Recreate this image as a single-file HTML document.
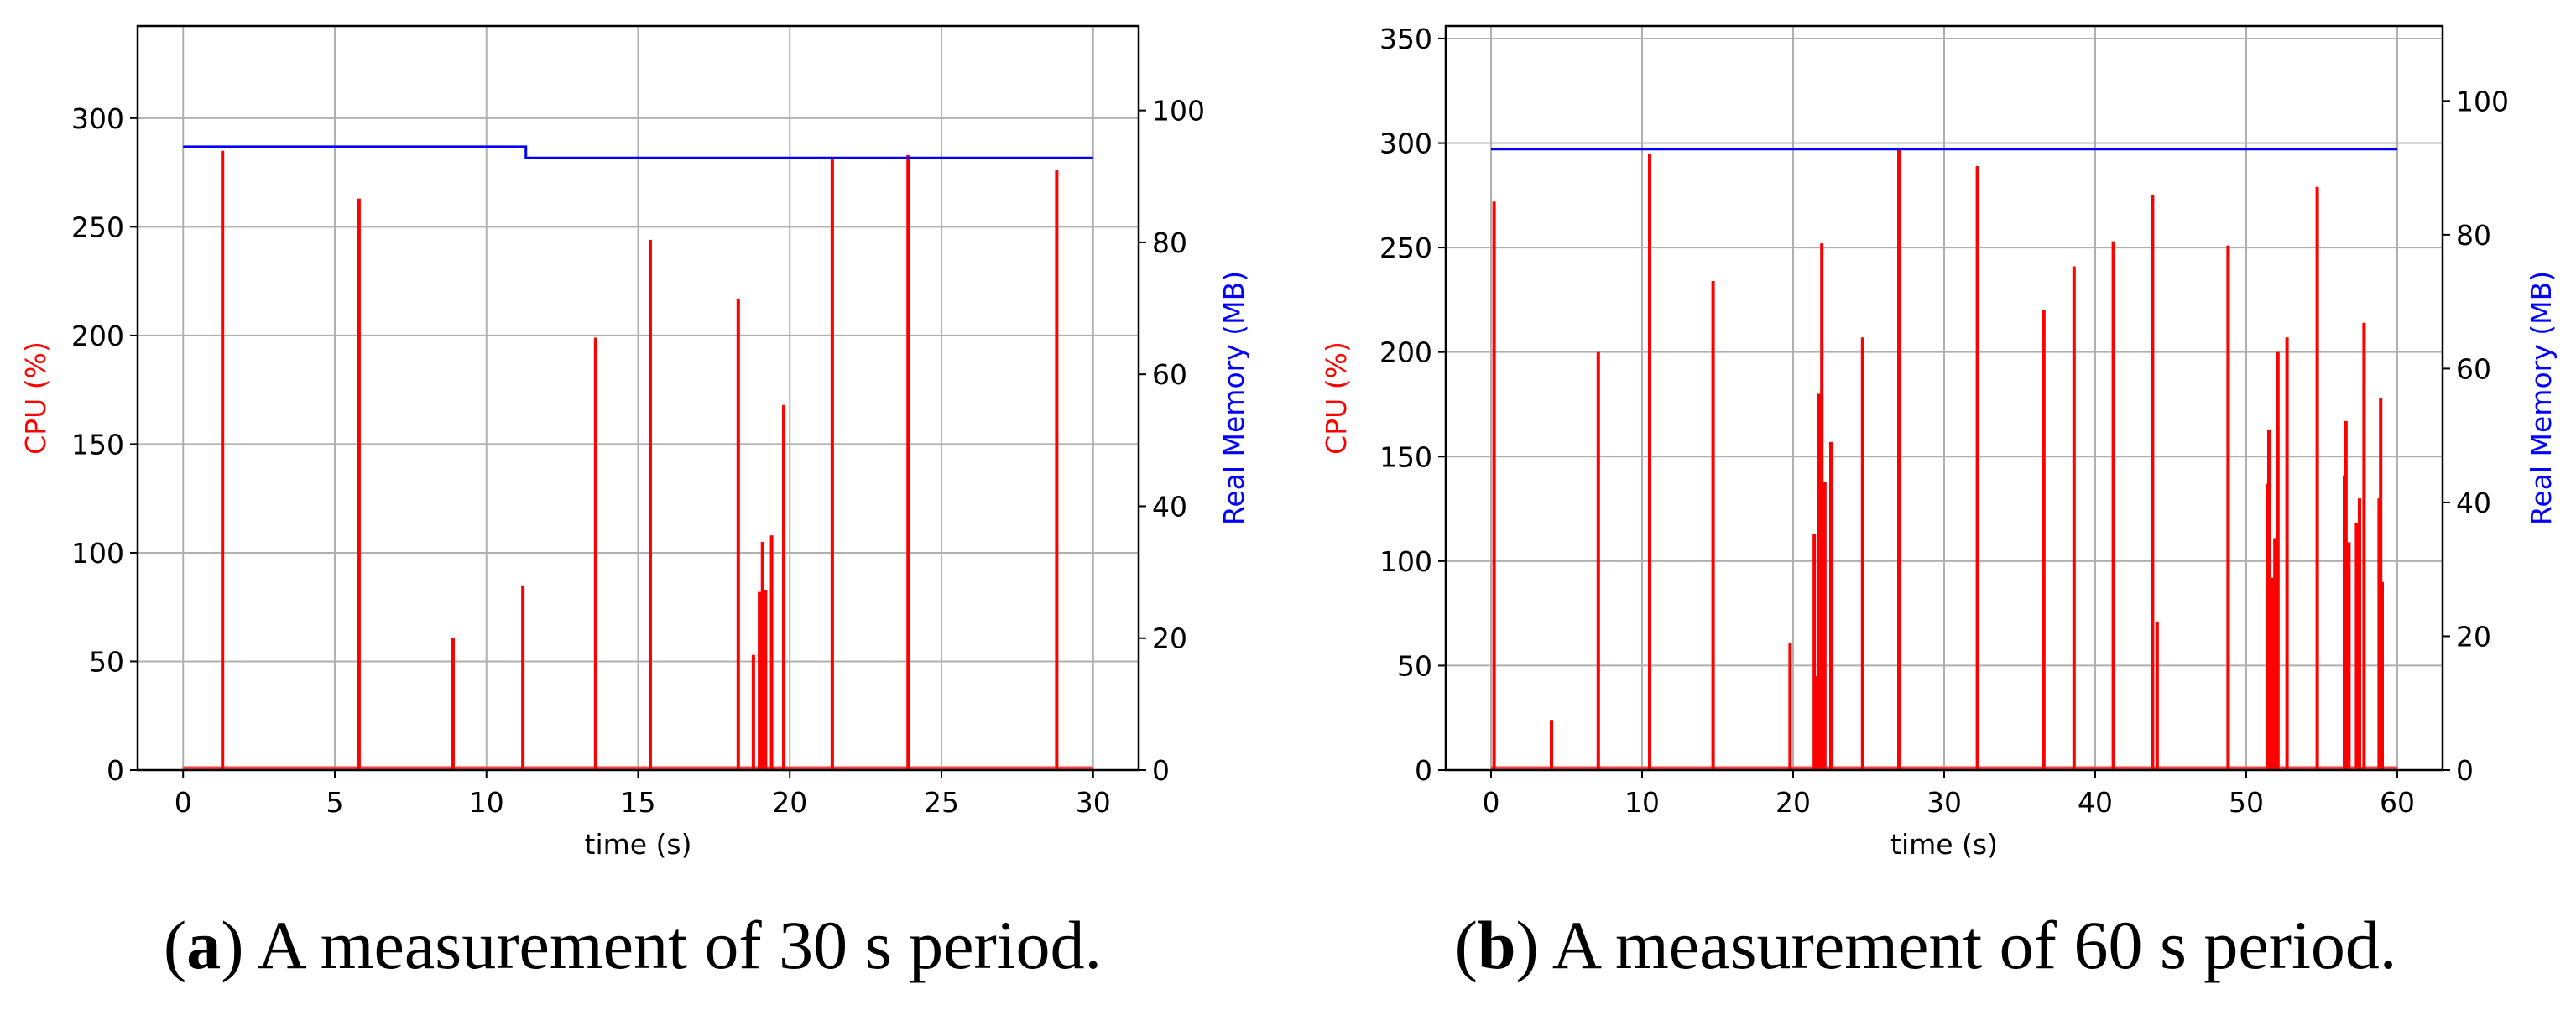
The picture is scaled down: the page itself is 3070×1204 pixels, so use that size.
<!DOCTYPE html>
<html><head><meta charset="utf-8"><style>
html,body{margin:0;padding:0;background:#fff;}
svg{display:block;}
text{font-family:"DejaVu Sans","Liberation Sans",sans-serif;}
.cap{font-family:"Liberation Serif",serif;}
</style></head><body>
<svg id="fig" width="3070" height="1204" viewBox="0 0 3070 1204" xmlns="http://www.w3.org/2000/svg">
<text class="cap" x="754" y="1154" font-size="82" text-anchor="middle">(<tspan font-weight="bold">a</tspan>) A measurement of 30 s period.</text>
<text class="cap" x="2295" y="1154" font-size="82" text-anchor="middle">(<tspan font-weight="bold">b</tspan>) A measurement of 60 s period.</text>
</svg>
<script>
// Panel A data
const aTimes = [1.3, 5.8, 8.9, 11.2, 13.6, 15.4, 18.3, 18.8, 19.0, 19.1, 19.2, 19.4, 19.8, 21.4, 23.9, 28.8];
const aCpu   = [285, 263, 61, 85, 199, 244, 217, 53, 82, 105, 83, 108, 168, 281, 283, 276];
const aMemT  = [0, 11.3, 11.3, 30];
const aMemV  = [94.5, 94.5, 92.8, 92.8];
const aXTicks = [0, 5, 10, 15, 20, 25, 30];
const aYTicks = [0, 50, 100, 150, 200, 250, 300];
const aY2Ticks = [0, 20, 40, 60, 80, 100];
// Panel B data
const bTimes = [0.2, 4.0, 7.1, 10.5, 14.7, 19.8, 21.4, 21.6, 21.7, 21.9, 22.1, 22.5, 24.6, 27.0, 32.2, 36.6, 38.6, 41.2, 43.8, 44.1, 48.8, 51.4, 51.5, 51.7, 51.9, 52.1, 52.7, 54.7, 56.5, 56.6, 56.8, 57.3, 57.5, 57.8, 58.8, 58.9, 59.0];
const bCpu   = [272, 24, 200, 295, 234, 61, 113, 45, 180, 252, 138, 157, 207, 297, 289, 220, 241, 253, 275, 71, 251, 137, 163, 92, 111, 200, 207, 279, 141, 167, 109, 118, 130, 214, 130, 178, 90];
const bMemT  = [0, 60];
const bMemV  = [92.8, 92.8];
const bXTicks = [0, 10, 20, 30, 40, 50, 60];
const bYTicks = [0, 50, 100, 150, 200, 250, 300, 350];
const bY2Ticks = [0, 20, 40, 60, 80, 100];

const NS = "http://www.w3.org/2000/svg";
const svg = document.getElementById('fig');
const FS = 33;
function mk(tag, attrs, parent){
  const e = document.createElementNS(NS, tag);
  for (const k in attrs) e.setAttribute(k, attrs[k]);
  (parent||svg).appendChild(e);
  return e;
}
function panel(p){
  const g = mk('g', {});
  
  
  const X = t => p.x0 + (t - p.xmin) / (p.xmax - p.xmin) * (p.x1 - p.x0);
  const Y = v => p.y1 - v / p.ymax * (p.y1 - p.y0);
  const Y2 = v => p.y1 - v / p.y2max * (p.y1 - p.y0);
  p.xt.forEach(t => {
    const l = mk('line', {x1:X(t), x2:X(t), y1:p.y0, y2:p.y1, stroke:'#b0b0b0', 'stroke-width':2}, g);
    
    
    mk('line', {x1:X(t), x2:X(t), y1:p.y1, y2:p.y1+9, stroke:'#000', 'stroke-width':2}, g);
    const tx = mk('text', {x:X(t), y:p.y1+50, 'font-size':FS, 'text-anchor':'middle'}, g);
    tx.textContent = t;
    
    
  });
  p.yt.forEach(v => {
    const l = mk('line', {x1:p.x0, x2:p.x1, y1:Y(v), y2:Y(v), stroke:'#b0b0b0', 'stroke-width':2}, g);
    
    
    mk('line', {x1:p.x0-9, x2:p.x0, y1:Y(v), y2:Y(v), stroke:'#000', 'stroke-width':2}, g);
    const tx = mk('text', {x:p.x0-16, y:Y(v)+12, 'font-size':FS, 'text-anchor':'end'}, g);
    tx.textContent = v;
    
    
  });
  p.y2t.forEach(v => {
    mk('line', {x1:p.x1, x2:p.x1+9, y1:Y2(v), y2:Y2(v), stroke:'#000', 'stroke-width':2}, g);
    const tx = mk('text', {x:p.x1+16, y:Y2(v)+12, 'font-size':FS, 'text-anchor':'start'}, g);
    tx.textContent = v;
    
    
  });
  const base = mk('line', {x1:X(p.xfirst), x2:X(p.xlast), y1:Y(0)-2, y2:Y(0)-2, stroke:'#ff4040', 'stroke-width':5}, g);
  
  
  p.times.forEach((t, i) => {
    const r = mk('rect', {x:X(t)-2, y:Y(p.cpu[i]), width:4, height:Y(0)-Y(p.cpu[i]), fill:'#ff0000'}, g);
    
    
  });
  const pts = p.memT.map((t, i) => X(t) + ',' + Y2(p.memV[i])).join(' ');
  const pl = mk('polyline', {points:pts, fill:'none', stroke:'#0000ff', 'stroke-width':3}, g);
  
  
  const fr = mk('rect', {x:p.x0, y:p.y0, width:p.x1-p.x0, height:p.y1-p.y0, fill:'none', stroke:'#000', 'stroke-width':2.5}, g);
  
  
  const xl = mk('text', {x:(p.x0+p.x1)/2, y:p.y1+100, 'font-size':FS, 'text-anchor':'middle'}, g);
  xl.textContent = 'time (s)';
  
  
  const yl = mk('text', {x:0, y:0, 'font-size':FS, 'text-anchor':'middle', fill:'#ff0000', transform:`translate(${p.ylx},${(p.y0+p.y1)/2}) rotate(-90)`}, g);
  yl.textContent = 'CPU (%)';
  
  
  const y2l = mk('text', {x:0, y:0, 'font-size':FS, 'text-anchor':'middle', fill:'#0000ff', transform:`translate(${p.y2lx},${(p.y0+p.y1)/2}) rotate(-90)`}, g);
  y2l.textContent = 'Real Memory (MB)';
  
  
}
panel({name:'chart-a', x0:164, x1:1357, y0:31, y1:918, xmin:-1.5, xmax:31.5, ymax:342.4, y2max:112.8,
  xt:aXTicks, yt:aYTicks, y2t:aY2Ticks, times:aTimes, cpu:aCpu, memT:aMemT, memV:aMemV, xfirst:0, xlast:30, ylx:54, y2lx:1482});
panel({name:'chart-b', x0:1723, x1:2911, y0:31, y1:918, xmin:-3, xmax:63, ymax:356, y2max:111.2,
  xt:bXTicks, yt:bYTicks, y2t:bY2Ticks, times:bTimes, cpu:bCpu, memT:bMemT, memV:bMemV, xfirst:0, xlast:60, ylx:1604, y2lx:3040});
</script>
</body></html>
